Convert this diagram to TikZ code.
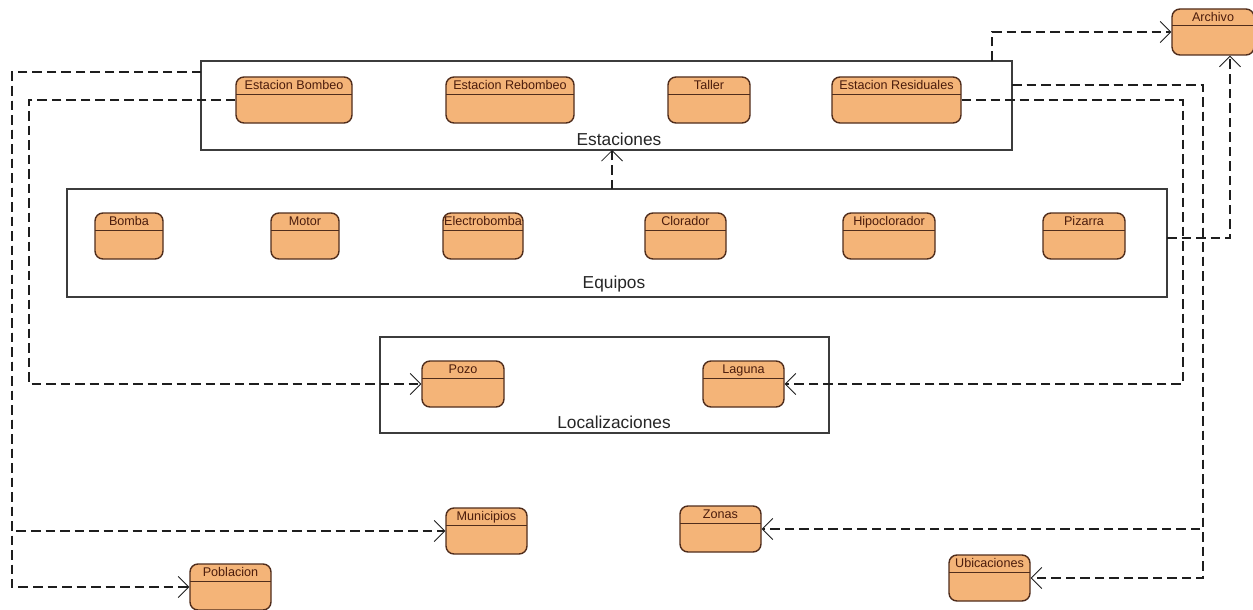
\documentclass[tikz,border=0pt]{standalone}
\usepackage{fontspec}
\setmainfont{Liberation Sans}
\usetikzlibrary{arrows.meta}
\definecolor{nf}{RGB}{244,180,120}
\definecolor{nb}{RGB}{80,45,28}
\definecolor{nt}{RGB}{75,28,12}
\definecolor{bx}{RGB}{60,60,60}
\definecolor{ln}{RGB}{30,30,30}
\begin{document}
\begin{tikzpicture}[x=1pt,y=-1pt,
  cls/.style={draw=nb, fill=nf, line width=1.4pt, rounded corners=8pt,
    minimum width=#1, inner xsep=0pt, inner ysep=3pt, text height=9.5pt, text depth=30.5pt,
    font=\fontsize{12.6}{14}\selectfont, text=nt,
    path picture={\draw[nb, line width=1pt] ([yshift=-17pt]path picture bounding box.north west) -- ([yshift=-17pt]path picture bounding box.north east);}},
  grp/.style={draw=bx, line width=1.2pt, inner sep=0pt, outer sep=0pt},
  glbl/.style={font=\fontsize{17.3}{20}\selectfont, text=black!85, inner sep=0pt},
  dep/.style={ln, line width=1.15pt, dash pattern=on 9.5pt off 5pt,
    -{Straight Barb[length=10.5pt,width=21pt,line width=0.8pt]}}]
\useasboundingbox (0,0) rectangle (1253,610);
\fill[white] (0,0) rectangle (1253,610);

% groups
\node[grp, minimum width=811pt, minimum height=89pt] (estaciones) at (606.5,105.5) {};
\node[glbl] (lestaciones) at (619,139) {Estaciones};
\node[grp, minimum width=1100pt, minimum height=108pt] (equipos) at (617,243) {};
\node[glbl] (lequipos) at (614,284) {Equipos};
\node[grp, minimum width=449pt, minimum height=96pt] (localizaciones) at (604.5,385) {};
\node[glbl] (llocalizaciones) at (614,422) {Localizaciones};

% classes
\node[cls=116pt] (eb) at (294,100) {Estacion Bombeo};
\node[cls=128pt] (erb) at (510,100) {Estacion Rebombeo};
\node[cls=82pt] (taller) at (709,100) {Taller};
\node[cls=129pt] (eres) at (896.5,100) {Estacion Residuales};

\node[cls=68pt] (bomba) at (129,236) {Bomba};
\node[cls=68pt] (motor) at (305,236) {Motor};
\node[cls=80pt] (electrobomba) at (483,236) {Electrobomba};
\node[cls=81pt] (clorador) at (685.5,236) {Clorador};
\node[cls=92pt] (hipoclorador) at (889,236) {Hipoclorador};
\node[cls=82pt] (pizarra) at (1084,236) {Pizarra};

\node[cls=82pt] (pozo) at (463,384) {Pozo};
\node[cls=81pt] (laguna) at (743.5,384) {Laguna};

\node[cls=81pt] (municipios) at (486.5,531) {Municipios};
\node[cls=81pt] (zonas) at (720.5,529) {Zonas};
\node[cls=81pt] (poblacion) at (230.5,587) {Poblacion};
\node[cls=81pt] (ubicaciones) at (989.5,578) {Ubicaciones};
\node[cls=82pt] (archivo) at (1213,32) {Archivo};

% connectors
\draw[dep] ([yshift=-11pt]estaciones.north west) -| (12,0 |- municipios.west) -- (municipios.west);
\draw[dep] ([yshift=-11pt]estaciones.north west) -| (12,0 |- poblacion.west) -- (poblacion.west);
\draw[dep] (eb.west) -| (29,0 |- pozo.west) -- (pozo.west);
\draw[dep] (eres.east) -| (1183,0 |- laguna.east) -- (laguna.east);
\draw[dep] ([yshift=-24pt]estaciones.north east) -| (1203,0 |- zonas.east) -- (zonas.east);
\draw[dep] ([yshift=-24pt]estaciones.north east) -| (1203,0 |- ubicaciones.east) -- (ubicaciones.east);
\draw[dep] ([xshift=-20pt]estaciones.north east) |- (archivo.west);
\draw[dep] ([yshift=5pt]equipos.east) -| ([xshift=17pt]archivo.south);
\draw[dep] ([xshift=-5pt]equipos.north) -- ([xshift=-5pt]equipos.north |- estaciones.south);
\end{tikzpicture}
\end{document}
